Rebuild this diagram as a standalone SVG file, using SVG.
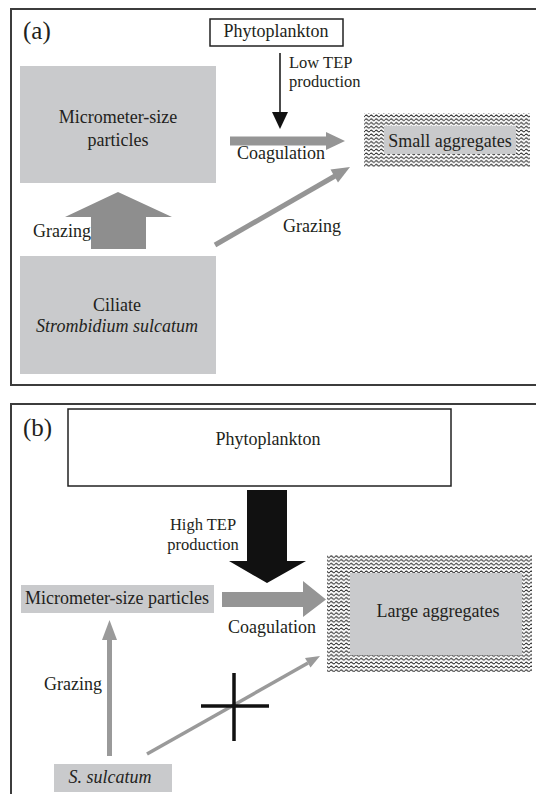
<svg xmlns="http://www.w3.org/2000/svg" width="536" height="794" viewBox="0 0 536 794">
<defs>
<pattern id="wave" patternUnits="userSpaceOnUse" width="5" height="3.8">
<rect width="5" height="3.8" fill="#ffffff"/>
<path d="M0,1.9 Q1.25,0.2 2.5,1.9 T5,1.9" fill="none" stroke="#1e1e1e" stroke-width="1"/>
</pattern>
</defs>
<style>
text{font-family:'Liberation Serif','DejaVu Serif',serif;font-size:18px;fill:#231f20}
.it{font-style:italic}
.two{font-size:16.5px}
.lbl{font-size:25px}
.frame{fill:none;stroke:#3c3c3c;stroke-width:2}
.box{fill:#c9cacc}
.wbox{fill:#ffffff;stroke:#222;stroke-width:1.5}
.hatch{fill:url(#wave)}
.g1{fill:#8e8e8e}
.g2{fill:#959595}
.g3{fill:#9a9a9a}
</style>
<rect x="1" y="1" width="534" height="792" fill="#ffffff"/>
<g id="panel-a">
<rect class="frame" x="11" y="9" width="540" height="376"/>
<text class="lbl" x="23" y="39">(a)</text>
</g>
<g id="panel-b">
<rect class="frame" x="11" y="404" width="540" height="400"/>
<text class="lbl" x="23" y="436">(b)</text>
</g>
<g id="a-phyto">
<rect class="wbox" x="210" y="19" width="133" height="27"/>
<text x="276" y="37" text-anchor="middle">Phytoplankton</text>
</g>
<g id="a-micro">
<rect class="box" x="20" y="66" width="196" height="117"/>
<text x="118" y="123" text-anchor="middle">Micrometer-size</text>
<text x="118" y="146" text-anchor="middle">particles</text>
</g>
<g id="a-small">
<rect class="hatch" x="364" y="113" width="166" height="54"/>
<rect class="box" x="384" y="126" width="132" height="28"/>
<text x="450" y="147" text-anchor="middle">Small aggregates</text>
</g>
<g id="a-ciliate">
<rect class="box" x="20" y="256" width="196" height="118"/>
<text x="117" y="311" text-anchor="middle">Ciliate</text>
<text class="it" x="117" y="332" text-anchor="middle">Strombidium sulcatum</text>
</g>
<g id="b-phyto">
<rect class="wbox" x="68" y="409" width="383" height="77"/>
<text x="268" y="445" text-anchor="middle">Phytoplankton</text>
</g>
<g id="b-micro">
<rect class="box" x="21" y="585" width="193" height="28"/>
<text x="117" y="604" text-anchor="middle">Micrometer-size particles</text>
</g>
<g id="b-large">
<rect class="hatch" x="327" y="555" width="205" height="117"/>
<rect class="box" x="350" y="573" width="172" height="82"/>
<text x="438" y="617" text-anchor="middle">Large aggregates</text>
</g>
<g id="b-sulcatum">
<rect class="box" x="54" y="764" width="118" height="28"/>
<text class="it" x="110" y="783" text-anchor="middle">S. sulcatum</text>
</g>
<g id="connectors">
<line x1="280" y1="53" x2="280" y2="113" stroke="#111" stroke-width="1.5"/>
<polygon points="272,112 288,112 280,129" fill="#111"/>
<text class="two" x="289" y="68">Low TEP</text>
<text class="two" x="289" y="87">production</text>
<polygon class="g2" points="230,136.5 326,136.5 326,132 345,141 326,150 326,145.5 230,145.5"/>
<text x="237" y="159">Coagulation</text>
<polygon class="g1" points="91,249 91,217 65,217 118,192 172,217 146,217 146,249"/>
<text x="33" y="237">Grazing</text>
<line x1="215" y1="245" x2="335" y2="176" stroke="#959595" stroke-width="5"/>
<polygon class="g2" points="350,167 338,182.5 330.5,169.5"/>
<text x="283" y="232">Grazing</text>
<polygon points="247,490 287,490 287,561 306,561 267,583 229,561 247,561" fill="#111"/>
<text class="two" x="203" y="530" text-anchor="middle">High TEP</text>
<text class="two" x="203" y="550" text-anchor="middle">production</text>
<polygon class="g2" points="222,592 303,592 303,581 326,599.5 303,617 303,607 222,607"/>
<text x="228" y="633">Coagulation</text>
<polygon class="g3" points="107,756 107,640 102,640 109.5,620 117,640 112,640 112,756"/>
<text x="44" y="690">Grazing</text>
<line x1="147" y1="754" x2="308" y2="663" stroke="#9a9a9a" stroke-width="3.5"/>
<polygon class="g3" points="320,656 310.5,667.5 305,658"/>
<line x1="234" y1="673" x2="234" y2="741" stroke="#111" stroke-width="3.5"/>
<line x1="201" y1="706" x2="269" y2="706" stroke="#111" stroke-width="3.5"/>
</g>
</svg>
